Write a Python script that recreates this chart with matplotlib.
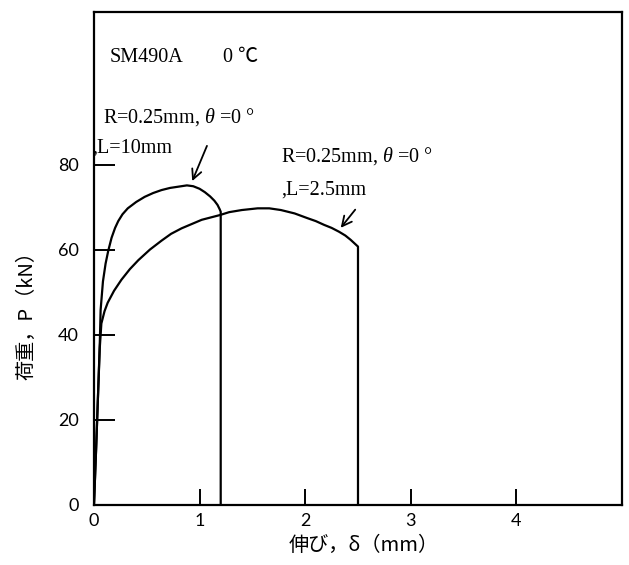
import matplotlib
matplotlib.use("Agg")
import matplotlib.pyplot as plt

plt.rcParams['font.family'] = ['Liberation Serif', 'Noto Sans CJK JP', 'DejaVu Sans']
plt.rcParams['mathtext.fontset'] = 'custom'
plt.rcParams['mathtext.rm'] = 'Liberation Serif'
plt.rcParams['mathtext.it'] = 'Liberation Serif:italic'

# load-elongation, R=0.25mm, theta=0, L=10mm
delta_l10 = [0.0, 0.02, 0.04, 0.055, 0.063, 0.085, 0.11, 0.135, 0.167, 0.20,
             0.23, 0.27, 0.32, 0.40, 0.48, 0.56, 0.64, 0.72, 0.80, 0.88,
             0.94, 1.00, 1.05, 1.10, 1.14, 1.17, 1.19, 1.20, 1.20]
load_l10 = [0.0, 13.0, 27.0, 38.0, 45.9, 52.6, 56.8, 59.8, 62.9, 65.2,
            66.8, 68.4, 69.8, 71.3, 72.5, 73.4, 74.1, 74.6, 74.9, 75.2,
            75.0, 74.4, 73.6, 72.6, 71.6, 70.6, 69.6, 69.0, 0.0]

# load-elongation, R=0.25mm, theta=0, L=2.5mm
delta_l25 = [0.0, 0.02, 0.04, 0.055, 0.07, 0.10, 0.13, 0.19, 0.26, 0.34,
             0.42, 0.53, 0.64, 0.73, 0.83, 1.02, 1.19, 1.28, 1.40, 1.55,
             1.66, 1.77, 1.90, 2.02, 2.10, 2.18, 2.25, 2.32, 2.38, 2.43,
             2.50, 2.50]
load_l25 = [0.0, 13.0, 27.0, 37.0, 42.7, 45.6, 47.6, 50.4, 53.0, 55.5,
            57.6, 60.1, 62.2, 63.8, 65.1, 67.1, 68.2, 68.9, 69.4, 69.8,
            69.8, 69.4, 68.6, 67.5, 66.8, 65.9, 65.2, 64.3, 63.4, 62.4,
            60.8, 0.0]

x_ticks = [0, 1, 2, 3, 4]
y_ticks = [0, 20, 40, 60, 80]

fig = plt.figure(figsize=(6.29, 5.65), dpi=100)
ax = fig.add_axes([0.1494, 0.1062, 0.8395, 0.8726])

ax.plot(delta_l10, load_l10, color='black', lw=1.6)
ax.plot(delta_l25, load_l25, color='black', lw=1.6)

ax.set_xlim(0, 5)
ax.set_ylim(0, 116)
ax.set_xticks(x_ticks)
ax.set_yticks(y_ticks)
ax.tick_params(axis='x', direction='in', length=11.5, width=1.4, pad=6,
               labelsize=13, top=False)
ax.tick_params(axis='y', direction='in', length=15, width=1.4, pad=11,
               labelsize=13, right=False)
for lab in ax.get_xticklabels() + ax.get_yticklabels():
    lab.set_family('Lato')
for sp in ax.spines.values():
    sp.set_linewidth(1.6)

ax.set_xlabel('伸び，δ（mm）', fontsize=14.5, family=['Noto Sans CJK JP'], va='center')
ax.xaxis.set_label_coords(0.511, -0.083)
ax.set_ylabel('荷重，P（kN）', fontsize=14.5, family=['Noto Sans CJK JP'], va='center')
ax.yaxis.set_label_coords(-0.127, 0.3935)

txt = dict(fontsize=14.5, va='center', ha='left', clip_on=False)
ax.text(0.15, 105.2, 'SM490A', **txt)
ax.text(1.22, 105.2, '0 ℃', **txt)
ax.text(0.085, 91.2, r'R=0.25mm, $\theta$ =0 °', **txt)
ax.text(-0.02, 83.9, ',L=10mm', **txt)
ax.text(1.77, 82.0, r'R=0.25mm, $\theta$ =0 °', **txt)
ax.text(1.77, 74.0, ',L=2.5mm', **txt)

arrow = dict(arrowstyle='->,head_length=0.7,head_width=0.35', color='black', lw=1.3)
ax.annotate('', xy=(0.92, 75.6), xytext=(1.08, 85.1), arrowprops=arrow)
ax.annotate('', xy=(2.32, 64.7), xytext=(2.49, 70.0), arrowprops=arrow)

fig.savefig('out.png', dpi=100)
